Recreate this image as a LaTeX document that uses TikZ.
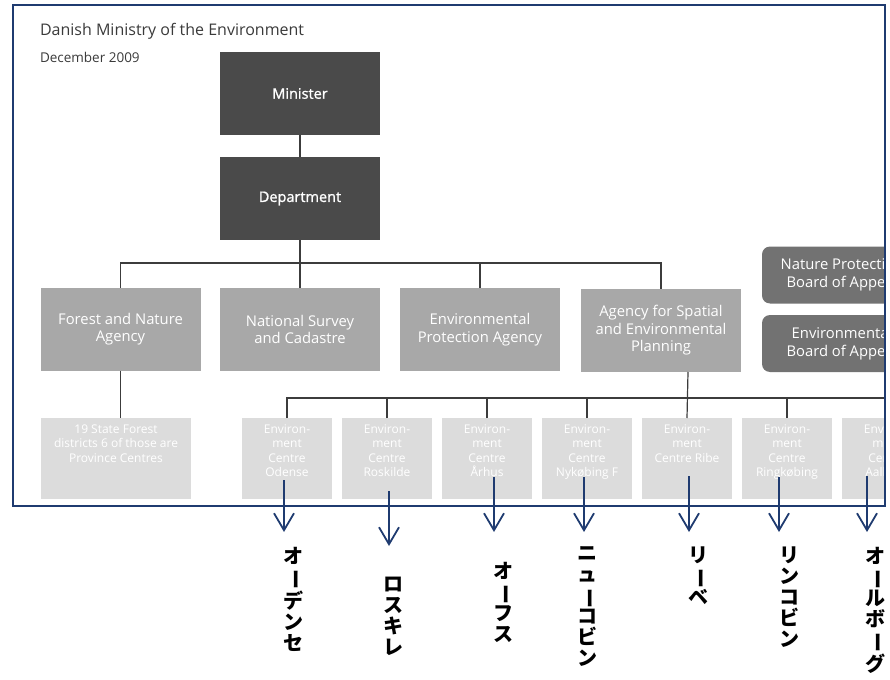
\documentclass[tikz,border=0pt]{standalone}
\usepackage{fontspec}
\setmainfont{Open Sans}
\newfontfamily\cjk{Noto Sans CJK JP}
\newfontfamily\semibold{Open Sans}[FakeBold=1.2]
\usetikzlibrary{shapes,arrows.meta,calc}
\usepackage{color}

\definecolor{frameblue}{HTML}{1F3B70}
\definecolor{boxdark}{HTML}{4A4A4A}
\definecolor{boxmid}{HTML}{A8A8A8}
\definecolor{boxlight}{HTML}{DCDCDC}
\definecolor{boxround}{HTML}{727272}
\definecolor{linegray}{HTML}{3C3C3C}
\definecolor{titlegray}{HTML}{3A3A3A}

\newcommand{\VBAR}{\rotatebox[origin=c]{-90}{ー}}
\newcommand{\CTXT}[1]{\parbox[c][68pt][t]{88pt}{\centering #1}}

\begin{document}
\begin{tikzpicture}[auto, outer sep=0pt, node distance=0cm, x=1pt, y=-1pt,
  >={Straight Barb[length=17pt,width=20pt]},
  title/.style={anchor=west, inner sep=0pt, text=titlegray},
  darkbox/.style={fill=boxdark, text=white, minimum width=160pt, minimum height=83pt,
    align=center, font=\semibold\fontsize{14.5}{18}\selectfont},
  agencybox/.style={fill=boxmid, text=white, minimum width=160pt, minimum height=83pt,
    align=center, font=\fontsize{14.8}{17.5}\selectfont},
  boardbox/.style={fill=boxround, text=white, rounded corners=8pt, minimum width=160pt,
    minimum height=57pt, align=center, font=\fontsize{14.8}{17.5}\selectfont},
  centrebox/.style={fill=boxlight, text=white, minimum width=90pt, minimum height=81pt,
    inner sep=0pt, font=\fontsize{12}{14.5}\selectfont},
  orgline/.style={draw=linegray, line width=1.2pt},
  jparrow/.style={draw=frameblue, line width=1.8pt},
  jplabel/.style={anchor=north, align=center, inner sep=0pt,
    font=\cjk\bfseries\fontsize{20}{21}\selectfont}]

\useasboundingbox (0,0) rectangle (890,679);
\clip (0,0) rectangle (890,679);

\node at (40, 31) (TITLE) [title, font=\fontsize{16}{18}\selectfont] {Danish Ministry of the Environment};
\node at (40, 57) (DATE) [title, font=\fontsize{13.5}{15}\selectfont] {December 2009};

\begin{scope}
\clip (13, 5) rectangle (885, 506);
\node at (300, 93.5) (MINISTER) [darkbox] {Minister};
\node at (300, 198.5) (DEPARTMENT) [darkbox] {Department};

\node at (120.5, 329) (FOREST) [agencybox] {Forest and Nature\\Agency};
\node at (300, 329.5) (NATIONAL) [agencybox] {National Survey\\and Cadastre};
\node at (480, 329.5) (ENV_PROT) [agencybox] {Environmental\\Protection Agency};
\node at (661, 330.5) (SPATIAL) [agencybox] {Agency for Spatial\\and Environmental\\Planning};

\node at (842, 275) (NATURE_BOARD) [boardbox] {Nature Protection\\Board of Appeal};
\node at (842, 343.5) (ENV_BOARD) [boardbox] {Environmental\\Board of Appeal};

\node at (116, 458.5) (STATE_FOREST) [centrebox, minimum width=150pt] {\parbox[c][68pt][t]{148pt}{\centering 19 State Forest\\districts 6 of those are\\Province Centres}};
\node at (287, 458.5) (ODENSE) [centrebox] {\CTXT{Environ-\\ment\\Centre\\Odense}};
\node at (387, 458.5) (ROSKILDE) [centrebox] {\CTXT{Environ-\\ment\\Centre\\Roskilde}};
\node at (487, 458.5) (AARHUS) [centrebox] {\CTXT{Environ-\\ment\\Centre\\Århus}};
\node at (587, 458.5) (NYKOBING) [centrebox] {\CTXT{Environ-\\ment\\Centre\\Nykøbing F}};
\node at (687, 458.5) (RIBE) [centrebox] {\CTXT{Environ-\\ment\\Centre Ribe}};
\node at (787, 458.5) (RINGKOBING) [centrebox] {\CTXT{Environ-\\ment\\Centre\\Ringkøbing}};
\node at (887, 458.5) (AALBORG) [centrebox] {\CTXT{Environ-\\ment\\Centre\\Aalborg}};

\coordinate (BUS_AGENCY) at (300, 263);
\coordinate (BUS_CENTRE) at (688, 398);

    \draw [orgline] (MINISTER) -- (DEPARTMENT);
    \draw [orgline] (DEPARTMENT) -- (NATIONAL);
    \draw [orgline] (FOREST.north) |- (BUS_AGENCY) -| (SPATIAL.north);
    \draw [orgline] (ENV_PROT.north) |- (BUS_AGENCY);
    \draw [orgline] (FOREST.south) -- (FOREST.south |- STATE_FOREST.north);
    \draw [orgline] (SPATIAL.south -| BUS_CENTRE) -- (RIBE.north);
    \draw [orgline] (ODENSE.north) |- (BUS_CENTRE) -| (AALBORG.north);
    \draw [orgline] (ROSKILDE.north) |- (BUS_CENTRE);
    \draw [orgline] (AARHUS.north) |- (BUS_CENTRE);
    \draw [orgline] (NYKOBING.north) |- (BUS_CENTRE);
    \draw [orgline] (RINGKOBING.north) |- (BUS_CENTRE);
\end{scope}

\draw [frameblue, line width=2pt] (13, 5) rectangle (885, 506);

\node at (293, 547) (JP_ODENSE) [jplabel] {オ\\\VBAR\\デ\\ン\\セ};
\node at (393, 577) (JP_ROSKILDE) [jplabel] {ロ\\ス\\キ\\レ};
\node at (503, 562) (JP_AARHUS) [jplabel] {オ\\\VBAR\\フ\\ス};
\node at (587, 547) (JP_NYKOBING) [jplabel] {ニ\\ュ\\\VBAR\\コ\\ビ\\ン};
\node at (698, 547) (JP_RIBE) [jplabel] {リ\\\VBAR\\ベ};
\node at (789, 547) (JP_RINGKOBING) [jplabel] {リ\\ン\\コ\\ビ\\ン};
\node at (875, 547) (JP_AALBORG) [jplabel] {オ\\\VBAR\\ル\\ボ\\\VBAR\\グ};

\coordinate (ODENSE_FROM) at (284, 480);     \coordinate (ODENSE_TO) at (284, 532);
\coordinate (ROSKILDE_FROM) at (389, 491);   \coordinate (ROSKILDE_TO) at (389, 546);
\coordinate (AARHUS_FROM) at (494, 477);     \coordinate (AARHUS_TO) at (494, 532);
\coordinate (NYKOBING_FROM) at (584, 477);   \coordinate (NYKOBING_TO) at (584, 532);
\coordinate (RIBE_FROM) at (689, 476);       \coordinate (RIBE_TO) at (689, 532);
\coordinate (RINGKOBING_FROM) at (779, 477); \coordinate (RINGKOBING_TO) at (779, 532);
\coordinate (AALBORG_FROM) at (867, 476);    \coordinate (AALBORG_TO) at (867, 532);

    \draw [->, jparrow] (ODENSE_FROM) -- (ODENSE_TO);
    \draw [->, jparrow] (ROSKILDE_FROM) -- (ROSKILDE_TO);
    \draw [->, jparrow] (AARHUS_FROM) -- (AARHUS_TO);
    \draw [->, jparrow] (NYKOBING_FROM) -- (NYKOBING_TO);
    \draw [->, jparrow] (RIBE_FROM) -- (RIBE_TO);
    \draw [->, jparrow] (RINGKOBING_FROM) -- (RINGKOBING_TO);
    \draw [->, jparrow] (AALBORG_FROM) -- (AALBORG_TO);
\end{tikzpicture}
\end{document}
